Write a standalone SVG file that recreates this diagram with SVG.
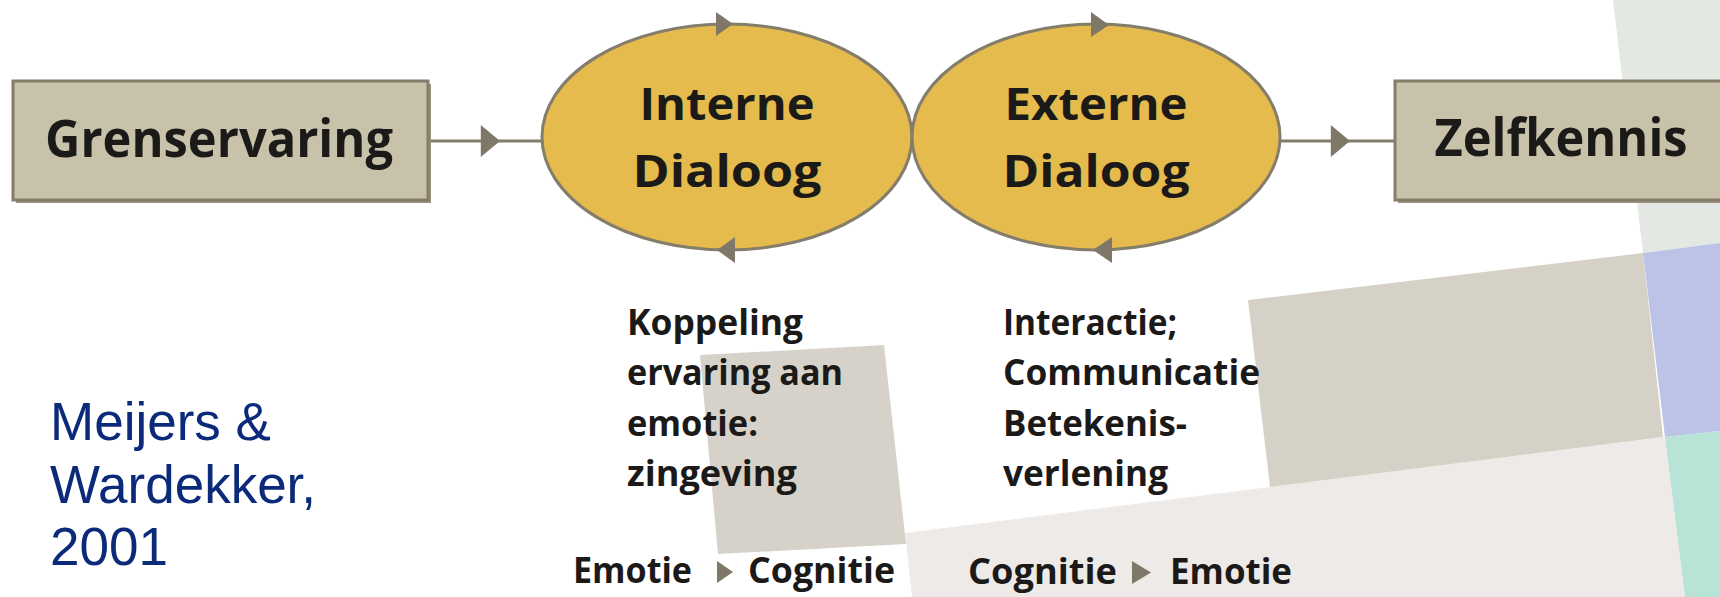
<svg xmlns="http://www.w3.org/2000/svg" width="1720" height="597" viewBox="0 0 1720 597">
<style>
.lbl{font-family:"Open Sans","Noto Sans","DejaVu Sans",sans-serif;font-weight:700;fill:#1b1a18;}
.big{font-size:52px;}
.mid{font-size:45px;}
.sm{font-size:36px;}
.box{fill:#c9c2ab;stroke:#857d6b;stroke-width:3;}
.shadow{fill:#9b937f;}
.ell{fill:#e4bb4c;stroke:#857d6b;stroke-width:3;}
.conn{fill:none;stroke:#857d6b;stroke-width:3;}
.ah{fill:#7f7868;}
.cite{font-family:"Liberation Sans",Arial,sans-serif;font-size:53px;fill:#0b2a7a;}
</style>
<defs>
<marker id="arr" markerUnits="userSpaceOnUse" markerWidth="20" markerHeight="32" viewBox="0 0 18 30" refX="18" refY="15" orient="auto">
<path d="M0,0 L18,15 L0,30 z" fill="#7f7868"/>
</marker>
</defs>
<rect width="1720" height="597" fill="#ffffff"/>
<g id="background">
<polygon points="1613,0 1720,0 1720,243 1643,253" fill="#e4e8e2"/>
<polygon points="905,533 1665,437 1685,597 912,597" fill="#edeae7"/>
<polygon points="1248,300 1643,253 1663,437 1270,487" fill="#d6d1c6"/>
<polygon points="1643,253 1720,243 1720,431 1665,437" fill="#bcc3e6"/>
<polygon points="1665,437 1720,431 1720,597 1685,597" fill="#b8e4d8"/>
<polygon points="700,355 884,345 906,544 718,554" fill="#d6d2c9"/>
</g>
<g id="connectors">
<path class="conn" d="M428,141 L500,141 L542,141" marker-mid="url(#arr)"/>
<path class="conn" d="M1281,141 L1350,141 L1395,141" marker-mid="url(#arr)"/>
</g>
<g id="node-grenservaring">
<rect class="shadow" x="16" y="84" width="415" height="119"/>
<rect class="box" x="13" y="81" width="415" height="119"/>
<text class="lbl big" x="219" y="157" text-anchor="middle" textLength="348" lengthAdjust="spacingAndGlyphs">Grenservaring</text>
</g>
<g id="node-interne">
<ellipse class="ell" cx="727" cy="137" rx="185" ry="113"/>
<text class="lbl mid" x="727" y="120" text-anchor="middle" textLength="175" lengthAdjust="spacingAndGlyphs">Interne</text>
<text class="lbl mid" x="727" y="187" text-anchor="middle" textLength="189" lengthAdjust="spacingAndGlyphs">Dialoog</text>
</g>
<g id="node-externe">
<ellipse class="ell" cx="1096" cy="137" rx="184" ry="113"/>
<text class="lbl mid" x="1096" y="120" text-anchor="middle" textLength="183" lengthAdjust="spacingAndGlyphs">Externe</text>
<text class="lbl mid" x="1096" y="187" text-anchor="middle" textLength="187" lengthAdjust="spacingAndGlyphs">Dialoog</text>
</g>
<g id="cycle-arrows">
<polygon class="ah" points="716,12 733,24 716,36"/>
<polygon class="ah" points="735,237 717,250 735,263"/>
<polygon class="ah" points="1091,12 1109,25 1091,37"/>
<polygon class="ah" points="1112,237 1093,250 1112,263"/>
</g>
<g id="node-zelfkennis">
<rect class="shadow" x="1398" y="84" width="330" height="119"/>
<rect class="box" x="1395" y="81" width="330" height="119"/>
<text class="lbl big" x="1561" y="156" text-anchor="middle" textLength="253" lengthAdjust="spacingAndGlyphs">Zelfkennis</text>
</g>
<g id="note-interne">
<text class="lbl sm" x="627" y="335" textLength="176" lengthAdjust="spacingAndGlyphs">Koppeling</text>
<text class="lbl sm" x="627" y="385" textLength="216" lengthAdjust="spacingAndGlyphs">ervaring aan</text>
<text class="lbl sm" x="627" y="436" textLength="131" lengthAdjust="spacingAndGlyphs">emotie:</text>
<text class="lbl sm" x="627" y="486" textLength="170" lengthAdjust="spacingAndGlyphs">zingeving</text>
</g>
<g id="note-externe">
<text class="lbl sm" x="1003" y="335" textLength="174" lengthAdjust="spacingAndGlyphs">Interactie;</text>
<text class="lbl sm" x="1003" y="385" textLength="257" lengthAdjust="spacingAndGlyphs">Communicatie</text>
<text class="lbl sm" x="1003" y="436" textLength="184" lengthAdjust="spacingAndGlyphs">Betekenis-</text>
<text class="lbl sm" x="1003" y="486" textLength="165" lengthAdjust="spacingAndGlyphs">verlening</text>
</g>
<g id="flow-left">
<text class="lbl sm" x="573" y="583" textLength="119" lengthAdjust="spacingAndGlyphs">Emotie</text>
<polygon class="ah" points="717,561 733,572 717,583"/>
<text class="lbl sm" x="748" y="583" textLength="147" lengthAdjust="spacingAndGlyphs">Cognitie</text>
</g>
<g id="flow-right">
<text class="lbl sm" x="968" y="584" textLength="149" lengthAdjust="spacingAndGlyphs">Cognitie</text>
<polygon class="ah" points="1132,561 1151,572.5 1132,584"/>
<text class="lbl sm" x="1170" y="584" textLength="122" lengthAdjust="spacingAndGlyphs">Emotie</text>
</g>
<g id="citation">
<text class="cite" x="50" y="440">Meijers &amp;</text>
<text class="cite" x="50" y="503">Wardekker,</text>
<text class="cite" x="50" y="565">2001</text>
</g>
</svg>
